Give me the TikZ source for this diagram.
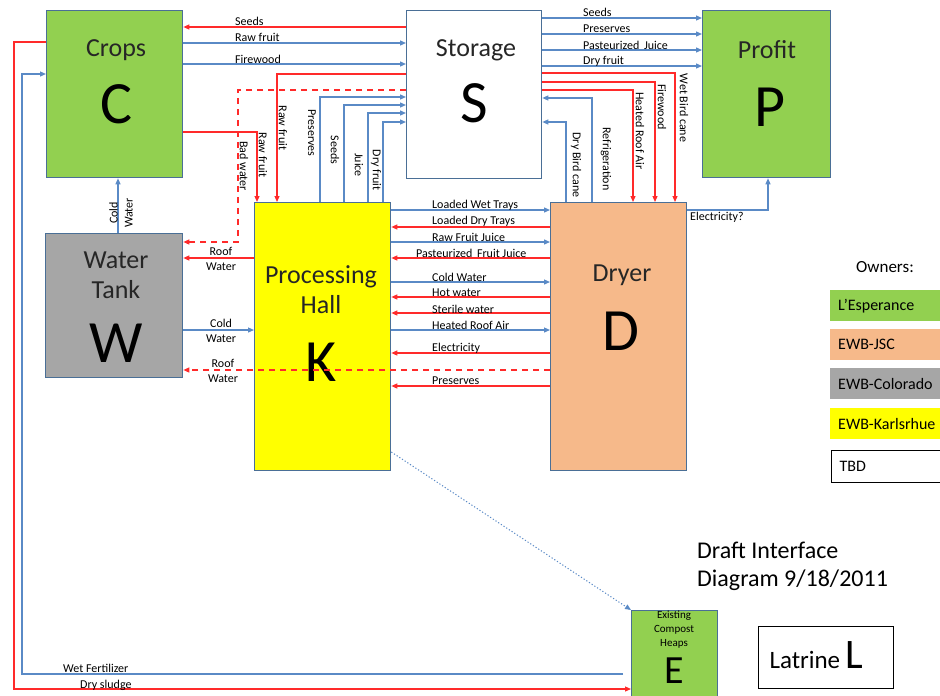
\documentclass[tikz,border=0pt]{standalone}
\usepackage{fontspec}
\setmainfont{Carlito}
\usetikzlibrary{arrows.meta}

\definecolor{ownergreen}{HTML}{92D050}
\definecolor{ownerpeach}{HTML}{F6B98A}
\definecolor{ownergray}{HTML}{A6A6A6}
\definecolor{owneryellow}{HTML}{FFFF00}
\definecolor{boxedge}{HTML}{4A6F96}
\definecolor{flowblue}{HTML}{5A8AC6}
\definecolor{flowred}{HTML}{FF2A2A}

\begin{document}
\begin{tikzpicture}[
        x=1pt, y=-1pt,
        box/.style={
            draw=boxedge,
            line width=1.3pt,
            anchor=north west,
            inner sep=0pt
        },
        boxname/.style={font=\fontsize{26}{30}\selectfont, text=black!85, align=center},
        bigletter/.style={font=\fontsize{60}{64}\selectfont},
        flowlabel/.style={font=\fontsize{12}{15}\selectfont, inner sep=0pt},
        legendbox/.style={
            anchor=north west,
            minimum width=130pt,
            minimum height=31pt,
            text width=130pt,
            inner xsep=8pt,
            align=left,
            font=\fontsize{16}{18}\selectfont
        },
        blueflow/.style={draw=flowblue, line width=1.2pt, -{Triangle[length=6pt,width=5pt]}},
        redflow/.style={draw=flowred, line width=1.2pt, -{Triangle[length=6pt,width=5pt]}}
    ]

    \useasboundingbox (0,0) rectangle (940,696);

    % boxes
    \node[box, fill=ownergreen, minimum width=136pt, minimum height=167pt] (crops) at (46,10) {};
    \node[box, fill=white, minimum width=135pt, minimum height=168pt] (stor) at (406,10) {};
    \node[box, fill=ownergreen, minimum width=128pt, minimum height=167pt] (profit) at (702,10) {};
    \node[box, fill=ownergray, minimum width=137pt, minimum height=144pt] (water) at (45,233) {};
    \node[box, fill=owneryellow, minimum width=136pt, minimum height=268pt] (proc) at (254,202) {};
    \node[box, fill=ownerpeach, minimum width=136pt, minimum height=268pt] (dry) at (550,202) {};
    \node[box, fill=ownergreen, minimum width=86pt, minimum height=90pt] (ecomp) at (631,610) {};
    \node[box, draw=black, fill=white, minimum width=135pt, minimum height=62pt] (latrine) at (758,626) {};

    \node[boxname] (cropsname) at (116,50) {Crops};
    \node[bigletter] (cropsletter) at (116,104) {C};
    \node[boxname] (storname) at (476,50) {Storage};
    \node[bigletter] (storletter) at (474,103) {S};
    \node[boxname] (profitname) at (767,50) {Profit};
    \node[bigletter] (profitletter) at (770,107) {P};
    \node[boxname] (watername) at (116,275) {Water\\Tank};
    \node[bigletter] (waterletter) at (116,343) {W};
    \node[boxname] (procname) at (321,290) {Processing\\Hall};
    \node[bigletter] (procletter) at (321,362) {K};
    \node[boxname] (dryname) at (622,275) {Dryer};
    \node[bigletter] (dryletter) at (621,331) {D};
    \node[flowlabel, align=center, font=\fontsize{11}{14}\selectfont] (ecompname) at (674,630) {Existing\\Compost\\Heaps};
    \node[font=\fontsize{40}{44}\selectfont, inner sep=0pt] (ecompletter) at (674,671) {E};
    \node[font=\fontsize{25}{30}\selectfont, anchor=west] (latrinename) at (766,660) {Latrine};
    \node[font=\fontsize{42}{46}\selectfont, anchor=west] (latrineletter) at (842,655) {L};

    % crops and storage
    \draw[redflow] (stor.west |- 0,27) -- (crops.east |- 0,27);
    \draw[blueflow] (crops.east |- 0,43) -- (stor.west |- 0,43);
    \draw[blueflow] (crops.east |- 0,64) -- (stor.west |- 0,64);
    \node[flowlabel, anchor=west] (lseedsc) at (235,21) {Seeds};
    \node[flowlabel, anchor=west] (lrawc) at (235,37) {Raw fruit};
    \node[flowlabel, anchor=west] (lfirec) at (235,59) {Firewood};

    % storage and profit
    \draw[blueflow] (stor.east |- 0,18) -- (profit.west |- 0,18);
    \draw[blueflow] (stor.east |- 0,34) -- (profit.west |- 0,34);
    \draw[blueflow] (stor.east |- 0,50) -- (profit.west |- 0,50);
    \draw[blueflow] (stor.east |- 0,66) -- (profit.west |- 0,66);
    \node[flowlabel, anchor=west] (lseedsp) at (583,12) {Seeds};
    \node[flowlabel, anchor=west] (lpresp) at (583,29) {Preserves};
    \node[flowlabel, anchor=west] (ljuicep) at (583,45) {Pasteurized\, Juice};
    \node[flowlabel, anchor=west] (ldryp) at (583,61) {Dry fruit};

    % storage, crops and processing hall
    \draw[redflow] (stor.west |- 0,74) -| (proc.north -| 277,0);
    \draw[redflow] (crops.east |- 0,132) -| (proc.north -| 257,0);
    \draw[redflow, dash pattern=on 6pt off 5pt] (stor.west |- 0,90) -| (238,242) -- (water.east |- 0,242);
    \draw[blueflow] (proc.north -| 320,0) |- (stor.west |- 0,97);
    \draw[blueflow] (proc.north -| 344,0) |- (stor.west |- 0,105);
    \draw[blueflow] (proc.north -| 368,0) |- (stor.west |- 0,113);
    \draw[blueflow] (proc.north -| 383,0) |- (stor.west |- 0,122);
    \node[flowlabel, rotate=-90] (lbad) at (244,166) {Bad water};
    \node[flowlabel, rotate=-90] (lrawk) at (263,155) {Raw fruit};
    \node[flowlabel, rotate=-90] (lrawks) at (283,128) {Raw fruit};
    \node[flowlabel, rotate=-90] (lpresk) at (312,133) {Preserves};
    \node[flowlabel, rotate=-90] (lseedsk) at (335,150) {Seeds};
    \node[flowlabel, rotate=-90] (ljuicek) at (359,165) {Juice};
    \node[flowlabel, rotate=-90] (ldryk) at (376,170) {Dry fruit};

    % storage and dryer
    \draw[redflow] (stor.east |- 0,73) -| (dry.north -| 675,0);
    \draw[redflow] (stor.east |- 0,82) -| (dry.north -| 655,0);
    \draw[redflow] (stor.east |- 0,90) -| (dry.north -| 633,0);
    \draw[blueflow] (dry.north -| 592,0) |- (stor.east |- 0,98);
    \draw[blueflow] (dry.north -| 566,0) |- (stor.east |- 0,122);
    \node[flowlabel, rotate=-90] (lwetcane) at (684,108) {Wet Bird cane};
    \node[flowlabel, rotate=-90] (lfired) at (662,107) {Firewood};
    \node[flowlabel, rotate=-90] (lheatd) at (640,131) {Heated Roof Air};
    \node[flowlabel, rotate=-90] (lrefr) at (606,159) {Refrigeration};
    \node[flowlabel, rotate=-90] (ldrycane) at (576,165) {Dry Bird cane};

    % dryer and profit
    \draw[blueflow] (dry.east |- 0,210) -| (profit.south -| 768,0);
    \node[flowlabel, anchor=west] (lelecp) at (690,217) {Electricity?};

    % water tank
    \draw[blueflow] (water.north -| 118,0) -- (crops.south -| 118,0);
    \node[flowlabel, rotate=90, align=center] (lcoldc) at (121,213) {Cold\\Water};
    \draw[redflow] (proc.west |- 0,258) -- (water.east |- 0,258);
    \draw[blueflow] (water.east |- 0,330) -- (proc.west |- 0,330);
    \node[flowlabel, align=center] (lroofa) at (221,259) {Roof\\Water};
    \node[flowlabel, align=center] (lcoldw) at (221,331) {Cold\\Water};

    % processing hall and dryer
    \draw[blueflow] (proc.east |- 0,210) -- (dry.west |- 0,210);
    \draw[redflow] (dry.west |- 0,227) -- (proc.east |- 0,227);
    \draw[blueflow] (proc.east |- 0,242) -- (dry.west |- 0,242);
    \draw[redflow] (dry.west |- 0,258) -- (proc.east |- 0,258);
    \draw[blueflow] (proc.east |- 0,282) -- (dry.west |- 0,282);
    \draw[redflow] (dry.west |- 0,297) -- (proc.east |- 0,297);
    \draw[redflow] (dry.west |- 0,313) -- (proc.east |- 0,313);
    \draw[blueflow] (proc.east |- 0,330) -- (dry.west |- 0,330);
    \draw[redflow] (dry.west |- 0,353) -- (proc.east |- 0,353);
    \draw[redflow, dash pattern=on 6pt off 5pt] (dry.west |- 0,370) -- (water.east |- 0,370);
    \draw[redflow] (dry.west |- 0,386) -- (proc.east |- 0,386);
    \node[flowlabel, align=center] (lroofb) at (223,371) {Roof\\Water};
    \node[flowlabel, anchor=west] (lwettray) at (432,205) {Loaded Wet Trays};
    \node[flowlabel, anchor=west] (ldrytray) at (432,221) {Loaded Dry Trays};
    \node[flowlabel, anchor=west] (lrawjuice) at (432,237) {Raw Fruit Juice};
    \node[flowlabel, anchor=west] (lpastjuice) at (416,253) {Pasteurized\, Fruit Juice};
    \node[flowlabel, anchor=west] (lcoldd) at (432,277) {Cold Water};
    \node[flowlabel, anchor=west] (lhot) at (432,293) {Hot water};
    \node[flowlabel, anchor=west] (lsterile) at (432,309) {Sterile water};
    \node[flowlabel, anchor=west] (lheatk) at (432,325) {Heated Roof Air};
    \node[flowlabel, anchor=west] (lelec) at (432,348) {Electricity};
    \node[flowlabel, anchor=west] (lpresd) at (432,381) {Preserves};

    % compost heaps
    \draw[blueflow, dotted, line width=1pt] (proc.east |- 0,452) -- (ecomp.north west);
    \coordinate (wetend) at (623,674);
    \draw[blueflow] (wetend) -| (22,74) -- (crops.west |- 0,74);
    \draw[redflow] (crops.west |- 0,42) -| (14,689) -- (ecomp.west |- 0,689);
    \node[flowlabel, anchor=west] (lwetfert) at (63,668) {Wet Fertilizer};
    \node[flowlabel, anchor=west] (ldrysludge) at (80,685) {Dry sludge};

    % owners
    \node[font=\fontsize{17}{20}\selectfont] (owners) at (885,267) {Owners:};
    \node[legendbox, fill=ownergreen] (lgreen) at (830,290) {L'Esperance};
    \node[legendbox, fill=ownerpeach] (lpeach) at (830,329) {EWB-JSC};
    \node[legendbox, fill=ownergray] (lgray) at (830,368) {EWB-Colorado};
    \node[legendbox, fill=owneryellow] (lyellow) at (830,408) {EWB-Karlsrhue};
    \node[legendbox, draw=black, line width=1.3pt, minimum height=32pt] (ltbd) at (831,450) {TBD};

    \node[font=\fontsize{24}{28}\selectfont, anchor=north west, align=left, inner sep=0pt] (draft) at (697,542) {Draft Interface\\Diagram 9/18/2011};

    \end{tikzpicture}
\end{document}
